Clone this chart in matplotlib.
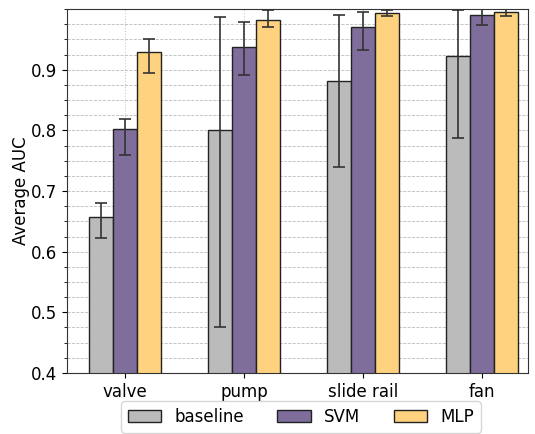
import matplotlib
matplotlib.use("Agg")
import matplotlib.pyplot as plt
import numpy as np
from matplotlib.ticker import MultipleLocator

categories = ["valve", "pump", "slide rail", "fan"]
series = ["baseline", "SVM", "MLP"]
colors = ["#bbbbbb", "#7f6d9b", "#ffd27f"]

baseline = [0.657, 0.800, 0.881, 0.922]
baseline_lo = [0.623, 0.475, 0.740, 0.788]
baseline_hi = [0.680, 0.987, 0.991, 0.998]

svm = [0.803, 0.937, 0.971, 0.990]
svm_lo = [0.759, 0.892, 0.933, 0.973]
svm_hi = [0.819, 0.979, 0.996, 1.003]

mlp = [0.929, 0.982, 0.994, 0.995]
mlp_lo = [0.895, 0.970, 0.989, 0.988]
mlp_hi = [0.951, 0.998, 0.999, 1.003]

vals = [baseline, svm, mlp]
los = [baseline_lo, svm_lo, mlp_lo]
his = [baseline_hi, svm_hi, mlp_hi]

fig = plt.figure(figsize=(5.35, 4.34), dpi=100)
ax = fig.add_axes([0.125, 0.1406, 0.862, 0.8384])

x = np.arange(len(categories))
w = 0.2
for i, (name, c) in enumerate(zip(series, colors)):
    v = np.array(vals[i]); lo = np.array(los[i]); hi = np.array(his[i])
    ax.bar(x + (i - 1) * w, v, w, color=c, edgecolor="#222222", linewidth=1.0,
           label=name, zorder=2,
           yerr=[v - lo, hi - v], capsize=4.5,
           error_kw=dict(ecolor="#333333", elinewidth=1.2, capthick=1.2, zorder=3))

ax.set_ylim(0.4, 1.0)
ax.set_xlim(-0.487, 3.387)
ax.set_xticks(x)
ax.set_xticklabels(categories, fontsize=12)
ax.yaxis.set_major_locator(MultipleLocator(0.1))
ax.yaxis.set_minor_locator(MultipleLocator(0.025))
ax.set_yticks([0.4, 0.5, 0.6, 0.7, 0.8, 0.9])
ax.tick_params(axis="y", labelsize=12)
ax.set_ylabel("Average AUC", fontsize=12, labelpad=1)

ax.grid(axis="y", which="both", linestyle="--", color="#bbbbbb", linewidth=0.6, zorder=0)
ax.grid(axis="x", which="major", linestyle=":", color="#cccccc", linewidth=0.8, zorder=0)
ax.set_axisbelow(True)
for s in ax.spines.values():
    s.set_color("#333333")

ax.legend(loc="center", bbox_to_anchor=(0.5626, 0.039), bbox_transform=fig.transFigure,
          ncol=3, fontsize=12, frameon=True, columnspacing=2.0, handlelength=2.0)

fig.savefig("out.png", dpi=100)
